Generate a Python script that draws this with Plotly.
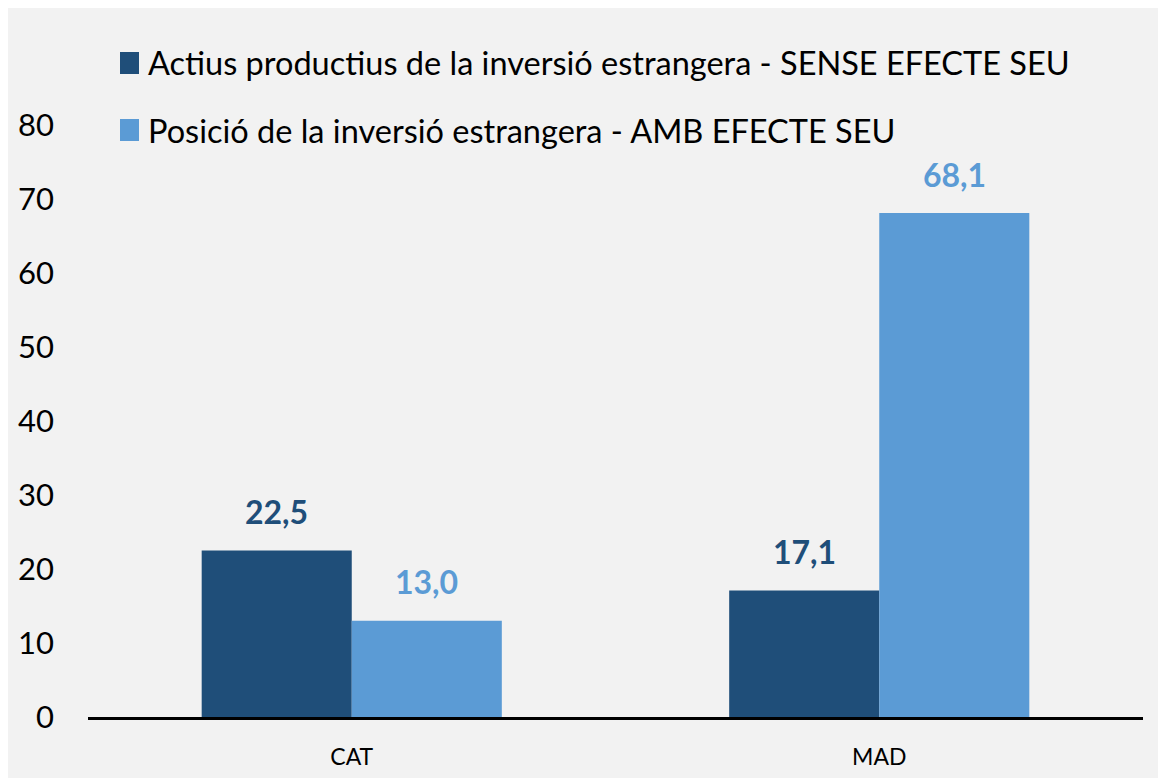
import plotly.graph_objects as go

categories = ["CAT", "MAD"]
series_names = [
    "Actius productius de la inversió estrangera - SENSE EFECTE SEU",
    "Posició de la inversió estrangera - AMB EFECTE SEU",
]
series_values = [
    [22.5, 17.1],
    [13.0, 68.1],
]
series_colors = ["#1f4e79", "#5b9bd5"]
y_ticks = [0, 10, 20, 30, 40, 50, 60, 70, 80]

# page is 1166x778; the browser's default 8px body margin offsets the figure
OX, OY = 8, 8
W, H = 1166 - OX, 778 - OY
L, R, T, B = 88 - OX, 23, 125 - OY, 61
PW, PH = W - L - R, H - T - B
FONT = "Lato"


def px2x(px):
    return (px - OX - L) / PW


def py2y(py):
    return (H - B - (py - OY)) / PH


fig = go.Figure()
for name, vals, col in zip(series_names, series_values, series_colors):
    fig.add_trace(go.Bar(x=categories, y=vals, name=name, marker_color=col,
                         marker_line_width=0, showlegend=False))

annotations = []
n = len(series_values)
bar_px = PW / len(categories) * (1 - 0.431) / n
for i, (vals, col) in enumerate(zip(series_values, series_colors)):
    shift = (i - (n - 1) / 2) * bar_px
    for c, v in zip(categories, vals):
        annotations.append(dict(
            x=c, y=v, xref="x", yref="y", xshift=shift, yshift=39,
            text=f"<b>{v:.1f}</b>".replace(".", ","), showarrow=False,
            font=dict(family=FONT, size=32, color=col), yanchor="middle"))

shapes = []
legend_rows = [63, 130]
for name, col, ry in zip(series_names, series_colors, legend_rows):
    shapes.append(dict(type="rect", xref="paper", yref="paper",
                       x0=px2x(120), x1=px2x(139), y0=py2y(ry + 11), y1=py2y(ry - 11),
                       fillcolor=col, line_width=0))
    annotations.append(dict(x=px2x(146), y=py2y(ry), xref="paper", yref="paper",
                            text=name, showarrow=False, xanchor="left", yanchor="middle",
                            font=dict(family=FONT, size=32.5, color="#000000")))

fig.update_layout(
    width=W, height=H,
    margin=dict(l=L, r=R, t=T, b=B),
    paper_bgcolor="#f2f2f2", plot_bgcolor="#f2f2f2",
    barmode="group", bargap=0.431, bargroupgap=0,
    annotations=annotations, shapes=shapes,
    font=dict(family=FONT, color="#000000"),
)
fig.update_xaxes(showline=True, linecolor="#000000", linewidth=2.5,
                 showgrid=False, ticks="", ticklabelstandoff=18, automargin=False,
                 tickfont=dict(family=FONT, size=23, color="#000000"))
fig.update_yaxes(range=[0, 80], tickvals=y_ticks, showgrid=False, zeroline=False,
                 showline=False, ticks="", ticklabelstandoff=33, automargin=False,
                 tickfont=dict(family=FONT, size=31, color="#000000"))

fig.write_html("out.html")
